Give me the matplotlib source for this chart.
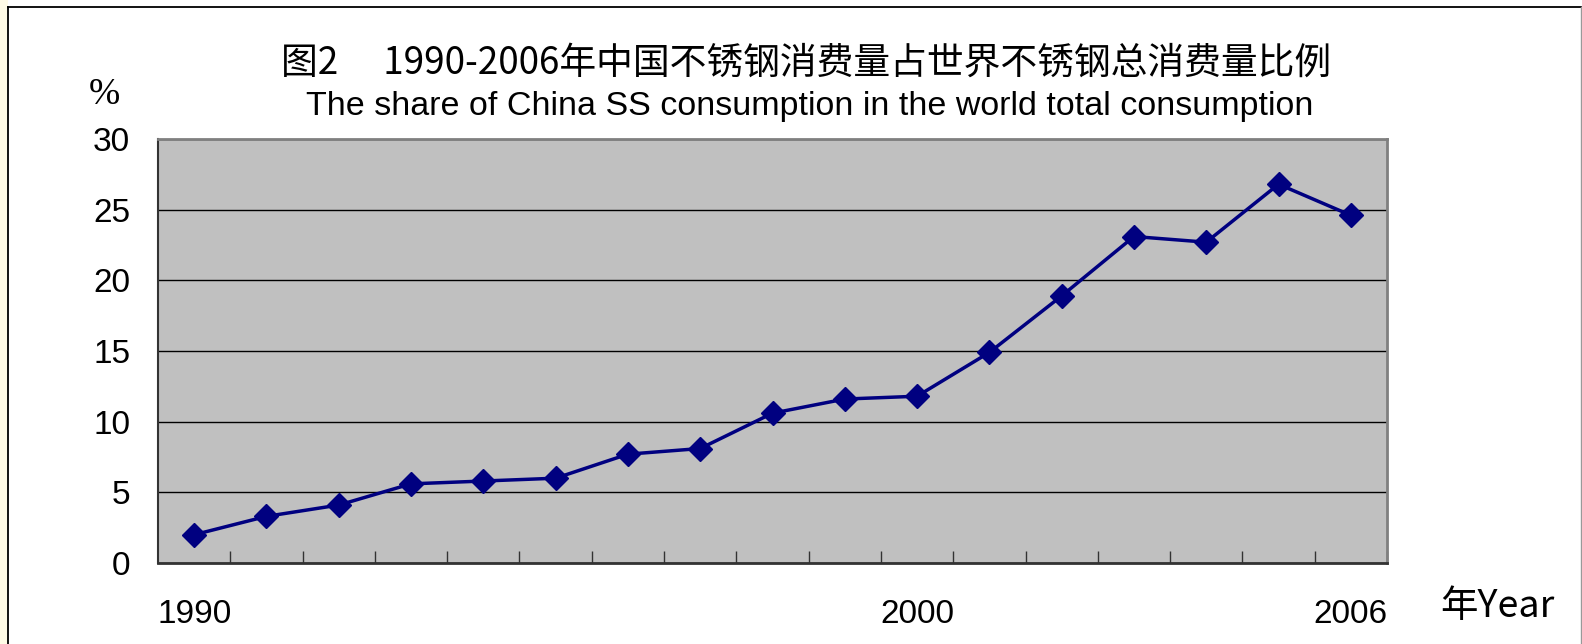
import matplotlib
matplotlib.use("Agg")
import matplotlib.pyplot as plt
from matplotlib.patches import Rectangle
from matplotlib.lines import Line2D

years = list(range(1990, 2007))
share = [2.0, 3.3, 4.1, 5.6, 5.8, 6.0, 7.7, 8.1, 10.6, 11.6, 11.8, 14.9, 18.9, 23.1, 22.7, 26.8, 24.6]
shown_labels = {1990: "1990", 2000: "2000", 2006: "2006"}
title_cn = "图2　 1990-2006年中国不锈钢消费量占世界不锈钢总消费量比例"
title_en = "The share of China SS consumption in the world total consumption"
y_ticks = [0, 5, 10, 15, 20, 25, 30]

W, H = 1582, 644
fig = plt.figure(figsize=(W / 100, H / 100), dpi=100)
fig.patch.set_facecolor("white")

# left yellowish strip and outer frame
fig.add_artist(Rectangle((0, 0), 8 / W, 1, transform=fig.transFigure, facecolor="#fffbe6", edgecolor="none"))
fig.add_artist(Line2D([8 / W, 8 / W], [0, 1 - 7 / H], transform=fig.transFigure, color="black", lw=1.3))
fig.add_artist(Line2D([8 / W, 1581 / W], [1 - 7 / H, 1 - 7 / H], transform=fig.transFigure, color="black", lw=1.3))
fig.add_artist(Line2D([1581 / W, 1581 / W], [0, 1 - 7 / H], transform=fig.transFigure, color="#999999", lw=1))

left, right, top, bottom = 158, 1387, 139, 563
ax = fig.add_axes([left / W, 1 - bottom / H, (right - left) / W, (bottom - top) / H])
ax.set_facecolor("#c0c0c0")

x = list(range(len(years)))
ax.plot(x, share, color="#000080", lw=2.5, marker="D", markersize=12.5, markerfacecolor="#000080",
        markeredgecolor="#000080", zorder=3)

ax.set_xlim(-0.5, len(years) - 0.5)
ax.set_ylim(0, 30)
ax.set_yticks(y_ticks)
ax.yaxis.grid(True, color="black", lw=1)
ax.set_axisbelow(True)

# category ticks at boundaries, labels only for some
ax.set_xticks([k + 0.5 for k in range(len(years))])
ax.set_xticklabels([])
ax.tick_params(axis="x", direction="in", length=9, width=1, color="#333333")
ax.set_xticks(x, minor=True)
ax.set_xticklabels([shown_labels.get(y, "") for y in years], minor=True)
ax.tick_params(axis="x", which="minor", length=0, pad=26, labelsize=24)
for lab in ax.get_xticklabels(minor=True):
    lab.set_family("Liberation Sans")

ax.tick_params(axis="y", direction="in", length=0, pad=20, labelsize=24)
for lab in ax.get_yticklabels():
    lab.set_family("Liberation Sans")

for s in ["top", "right"]:
    ax.spines[s].set_color("#808080")
    ax.spines[s].set_linewidth(2)
ax.spines["left"].set_color("#333333")
ax.spines["left"].set_linewidth(1.5)
ax.spines["bottom"].set_color("#333333")
ax.spines["bottom"].set_linewidth(2)

fig.text(806 / W, 1 - 63 / H, title_cn, ha="center", va="center", fontsize=26.5,
         family=["Noto Sans CJK SC", "DejaVu Sans"], fontweight="light")
fig.text(810 / W, 1 - 106 / H, title_en, ha="center", va="center", fontsize=24.5,
         family=["Liberation Sans Narrow", "Liberation Sans"])
fig.text(104 / W, 1 - 95 / H, "%", ha="center", va="center", fontsize=27, family="Liberation Serif")
fig.text(1440 / W, 1 - 606 / H, "年Year", ha="left", va="center", fontsize=27,
         family=["Noto Sans CJK SC", "DejaVu Sans"], fontweight="light")

fig.savefig("out.png", dpi=100)
